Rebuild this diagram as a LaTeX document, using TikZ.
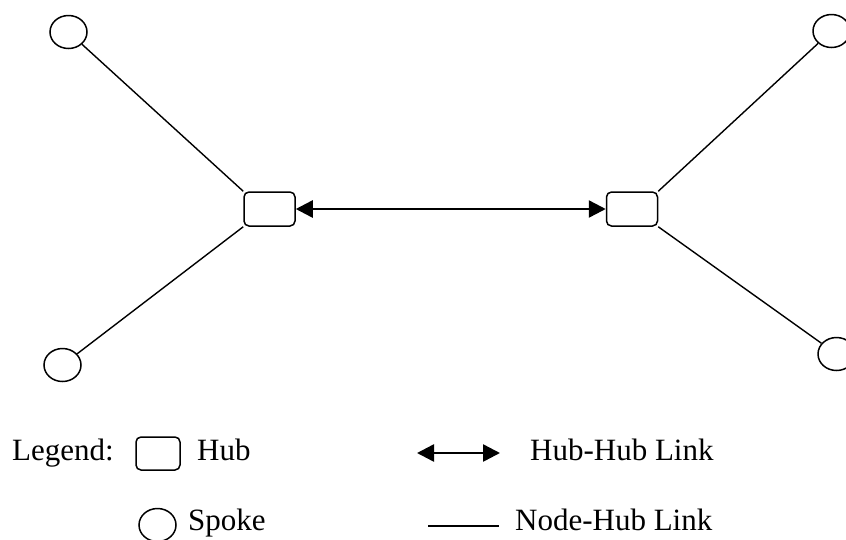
\documentclass[tikz,border=0pt]{standalone}
\usepackage{fontspec}
\setmainfont{Liberation Serif}
\usetikzlibrary{shapes.geometric, positioning, arrows.meta}
\tikzset{
	hub/.style={draw, rounded corners=5pt, minimum width=51pt, minimum height=34pt, inner sep=0, line width=1.5pt},
	spoke/.style={ellipse, draw, minimum width=37pt, minimum height=33pt, inner sep=0, line width=1.5pt},
	hhlink/.style={{Triangle[length=17pt,width=17pt]}-{Triangle[length=17pt,width=17pt]}, line width=2.5pt},
	nhlink/.style={line width=1.4pt},
	legtext/.style={anchor=base west, inner sep=0, font=\fontsize{31}{36}\selectfont}
}

\begin{document}
\begin{tikzpicture}[x=1pt, y=-1pt]
\useasboundingbox (0,0) rectangle (846,539);
\clip (0,0) rectangle (846,539);
{
\node[hub] (hubL) at (269.5,209) {};
\node[hub] (hubR) at (632,209) {};
\node[spoke] (spokeTL) at (68.5,32) {};
\node[spoke] (spokeBL) at (62.5,365) {};
\node[spoke] (spokeTR) at (831.5,31) {};
\node[spoke] (spokeBR) at (836.5,354) {};
}
\draw[hhlink] (hubL) -- (hubR);
\draw[nhlink] (spokeTL) -- (hubL.north west);
\draw[nhlink] (spokeBL) -- (hubL.south west);
\draw[nhlink] (spokeTR) -- (hubR.north east);
\draw[nhlink] (spokeBR) -- (hubR.south east);

% legend
\node[legtext] (legend) at (12,460) {Legend:};
\node[hub, minimum width=44pt, minimum height=33pt] (keyhub) at (158,453.5) {};
\node[legtext] (keyhubtext) at (197,460) {Hub};
\node[spoke] (keyspoke) at (157.5,525) {};
\node[legtext] (keyspoketext) at (188,530.5) {Spoke};
\coordinate (hhA) at (417,453);
\coordinate (hhB) at (500,453);
\draw[hhlink] (hhA) -- (hhB);
\node[legtext] (keyhhtext) at (530,460) {Hub-Hub Link};
\coordinate (nhA) at (428,526);
\coordinate (nhB) at (499,526);
\draw[nhlink] (nhA) -- (nhB);
\node[legtext] (keynhtext) at (515,530.5) {Node-Hub Link};
\end{tikzpicture}
\end{document}
